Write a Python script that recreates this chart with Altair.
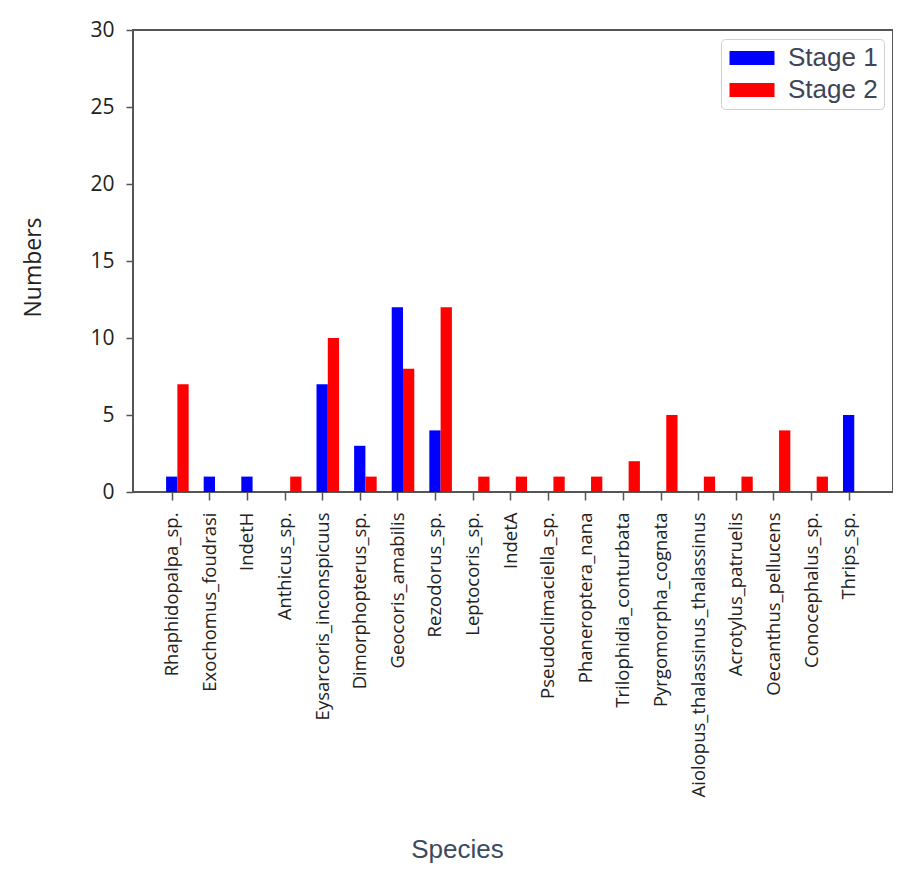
import json
import altair as alt
import pandas as pd

species = [
    "Rhaphidopalpa_sp.", "Exochomus_foudrasi", "IndetH", "Anthicus_sp.",
    "Eysarcoris_inconspicuus", "Dimorphopterus_sp.", "Geocoris_amabilis",
    "Rezodorus_sp.", "Leptocoris_sp.", "IndetA", "Pseudoclimaciella_sp.",
    "Phaneroptera_nana", "Trilophidia_conturbata", "Pyrgomorpha_cognata",
    "Aiolopus_thalassinus_thalassinus", "Acrotylus_patruelis",
    "Oecanthus_pellucens", "Conocephalus_sp.", "Thrips_sp.",
]
stage1 = [1, 1, 1, 0, 7, 3, 12, 4, 0, 0, 0, 0, 0, 0, 0, 0, 0, 0, 5]
stage2 = [7, 0, 0, 1, 10, 1, 8, 12, 1, 1, 1, 1, 2, 5, 1, 1, 4, 1, 0]
series = ["Stage 1", "Stage 2"]
colors = ["#0000ff", "#ff0000"]
y_ticks = [0, 5, 10, 15, 20, 25, 30]

rows = []
for k, (name, vals) in enumerate(zip(series, [stage1, stage2])):
    for i, v in enumerate(vals):
        rows.append({"idx": i, "species": species[i], "stage": name, "k": k, "value": v})
df = pd.DataFrame(rows)

BAR_W = 0.3
label_expr = json.dumps(species) + "[datum.value]"

chart = (
    alt.Chart(df)
    .transform_filter("datum.value > 0")
    .transform_calculate(
        x0=f"datum.idx + datum.k * {BAR_W} - {BAR_W / 2}",
        x1=f"datum.idx + datum.k * {BAR_W} + {BAR_W / 2}",
    )
    .mark_bar(strokeWidth=0)
    .encode(
        x=alt.X(
            "x0:Q",
            scale=alt.Scale(domain=[-1.03, 19.18], nice=False, zero=False),
            axis=alt.Axis(
                values=list(range(len(species))),
                labelExpr=label_expr,
                labelAngle=-90,
                labelAlign="right",
                labelBaseline="middle",
                labelOverlap=False,
                labelFlush=False,
                labelLimit=0,
                labelPadding=12,
                labelFont="Open Sans",
                labelFontSize=18.5,
                labelColor="#222222",
                tickSize=8,
                tickColor="#555555",
                tickWidth=1.5,
                domain=False,
                grid=False,
                title="Species",
                titleFont="Liberation Sans",
                titleFontSize=26,
                titleFontWeight="normal",
                titleColor="#3b4a5f",
                titleX=324,
                titleY=357,
                titleAlign="center",
                titleBaseline="middle",
            ),
        ),
        x2="x1:Q",
        y=alt.Y(
            "value:Q",
            scale=alt.Scale(domain=[0, 30], nice=False),
            axis=alt.Axis(
                values=y_ticks,
                labelFont="Open Sans",
                labelFontSize=21,
                labelColor="#222222",
                labelPadding=12,
                tickSize=7,
                tickColor="#555555",
                tickWidth=1.5,
                domain=False,
                grid=False,
                title="Numbers",
                titleFont="Open Sans",
                titleFontSize=23,
                titleFontWeight="normal",
                titleColor="#222222",
                titleAngle=270,
                titleX=-100,
                titleY=237,
                titleAlign="center",
                titleBaseline="middle",
            ),
        ),
        y2=alt.datum(0),
        color=alt.Color(
            "stage:N",
            scale=alt.Scale(domain=series, range=colors),
            legend=alt.Legend(
                orient="none",
                legendX=588,
                legendY=9,
                title=None,
                fillColor="white",
                strokeColor="#d0d0d0",
                cornerRadius=4,
                padding=6,
                labelFont="Liberation Sans",
                labelFontSize=26,
                labelColor="#3c4656",
                symbolType="M-2.5,-0.78L2.5,-0.78L2.5,0.78L-2.5,0.78Z",
                symbolSize=324,
                symbolStrokeWidth=0,
                symbolOpacity=1,
                symbolOffset=12,
                labelOffset=23,
                rowPadding=6,
            ),
        ),
    )
    .properties(
        width=760,
        height=462,
        autosize=alt.AutoSizeParams(type="none"),
        padding={"left": 125, "top": 22, "right": 0, "bottom": 380},
        background="white",
    )
    .configure_view(stroke="#555555", strokeWidth=2)
)

chart.save("out.html", embed_options={"renderer": "svg", "actions": False})
